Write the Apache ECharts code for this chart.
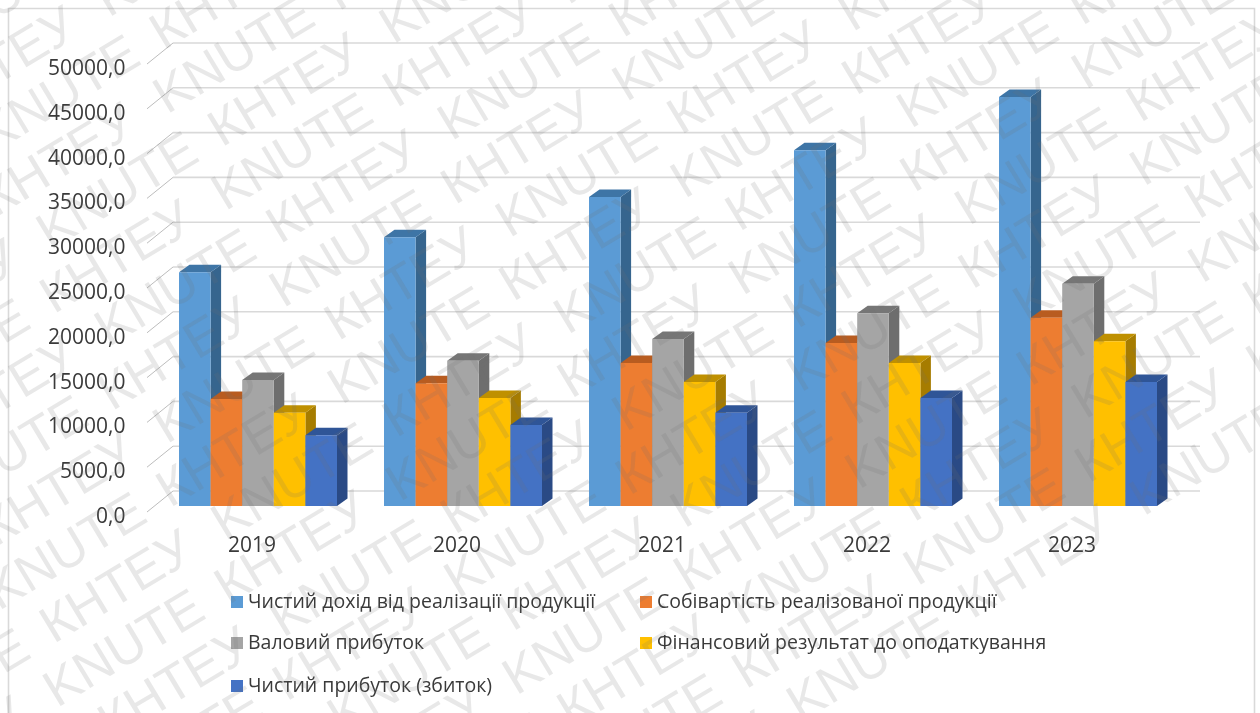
<!DOCTYPE html>
<html>
<head>
<meta charset="utf-8">
<style>html,body{margin:0;padding:0;background:#fff}#c{width:1260px;height:713px;filter:blur(0.45px)}</style>
<script src="https://cdn.jsdelivr.net/npm/echarts@6/dist/echarts.min.js"></script>
</head>
<body>
<div id="c"></div>
<script>
const years = ['2019','2020','2021','2022','2023'];
const netRevenue = [26100,30000,34500,39700,45650];
const costOfSales = [11950,13700,15950,18200,21000];
const grossProfit = [14050,16200,18650,21500,24800];
const pretaxResult = [10400,12050,13850,15950,18400];
const netProfit = [7900,9050,10400,12050,13850];
const yTicks = [0,5000,10000,15000,20000,25000,30000,35000,40000,45000,50000];
const seriesNames = ['Чистий дохід від реалізації продукції','Собівартість реалізованої продукції','Валовий прибуток','Фінансовий результат до оподаткування','Чистий прибуток (збиток)'];
const seriesValues = [netRevenue,costOfSales,grossProfit,pretaxResult,netProfit];
const frontColors = ['#5B9BD5','#ED7D31','#A5A5A5','#FFC000','#4472C4'];
const sideColors = ['#36658E','#8F4D1F','#6E6E6E','#A67C00','#2A4A85'];
const topColors = ['#3E75A6','#B85C20','#767676','#BF9000','#2F5597'];
const watermarkWords = ['KNUTE','КНТЕУ'];

const FONT = '"Open Sans", sans-serif';
const TEXT = '#3a3a3a';
const dx = 10.5, dy = 7.5, groupShare = 158/205;

function barItem(idx){
  return function(params, api){
    const c = api.coord([api.value(0), api.value(1)]);
    const base = api.coord([api.value(0), 0]);
    const band = api.size([1,0])[0];
    const w = band*groupShare/5;
    const x0 = c[0]-band*groupShare/2+idx*w, x1 = x0+w, yt = c[1], yb = base[1];
    return {type:'group',children:[
      {type:'polygon',shape:{points:[[x1,yb],[x1+dx,yb-dy],[x1+dx,yt-dy],[x1,yt]]},style:{fill:sideColors[idx]}},
      {type:'polygon',shape:{points:[[x0,yt],[x0+dx,yt-dy],[x1+dx,yt-dy],[x1,yt]]},style:{fill:topColors[idx]}},
      {type:'rect',shape:{x:x0,y:yt,width:w,height:yb-yt},style:{fill:frontColors[idx]}}
    ]};
  };
}
function gridItem(params, api){
  const y = api.coord([0, api.value(1)])[1];
  const cs = params.coordSys;
  const xf = cs.x-8.5, xb = cs.x+17.5, xr = cs.x+cs.width+19.5;
  return {type:'group',children:[
    {type:'polyline',shape:{points:[[xf,y+6],[xb,y-15]]},style:{stroke:'#bdbdbd',lineWidth:1,fill:'none'}},
    {type:'line',shape:{x1:xb,y1:y-15,x2:xr,y2:y-15},style:{stroke:'#d9d9d9',lineWidth:1.6}}
  ]};
}

const wmEls = [];
const wmAngle = 31*Math.PI/180, wmPeriod = 400, wmRow = 56.5;
for(let r=-8;r<16;r++){
  const odd = ((r%2)+2)%2;
  const start = odd ? 114 : 84;
  const first = odd ? 1 : 0;
  for(let k=-10;k<16;k++){
    const along = start + k*wmPeriod/2, across = 170 + r*wmRow;
    const x = along*Math.cos(wmAngle)+across*Math.sin(wmAngle);
    const y = -along*Math.sin(wmAngle)+across*Math.cos(wmAngle);
    if(x<-220||x>1400||y<-150||y>860) continue;
    const word = watermarkWords[(((k%2)+2)%2 + first)%2];
    wmEls.push({type:'text',x:x,y:y,rotation:wmAngle,silent:true,z:1000,
      style:{text:word,font:'52px "Liberation Sans", Arial, sans-serif',fill:'rgba(110,110,110,0.16)',verticalAlign:'middle',align:'left'}});
  }
}

const legendCells = [[231,602],[640,602],[231,643],[640,643],[231,686]];
const chart = echarts.init(document.getElementById('c'),null,{renderer:'canvas'});
chart.setOption({
  animation:false,
  backgroundColor:'#fff',
  grid:[
    {left:155.5,top:58,width:1025,height:448},
    {left:155.5,top:69,width:1025,height:448}
  ],
  xAxis:[
    {type:'category',data:years,axisLine:{show:false},axisTick:{show:false},splitLine:{show:false},
      axisLabel:{margin:30,color:TEXT,fontFamily:FONT,fontSize:21,padding:[0,12,0,0]}},
    {type:'category',gridIndex:1,data:years,show:false}
  ],
  yAxis:[
    {type:'value',min:0,max:50000,interval:5000,axisLine:{show:false},axisTick:{show:false},splitLine:{show:false},axisLabel:{show:false}},
    {type:'value',gridIndex:1,min:0,max:50000,interval:5000,axisLine:{show:false},axisTick:{show:false},splitLine:{show:false},
      axisLabel:{margin:30,color:TEXT,fontFamily:FONT,fontSize:21,formatter:v=>v.toFixed(1).replace('.',',')}}
  ],
  legend:seriesNames.map((n,i)=>({
    data:[n],left:legendCells[i][0],top:legendCells[i][1]-10,padding:0,itemWidth:12,itemHeight:12,icon:'rect',
    selectedMode:false,textStyle:{color:TEXT,fontFamily:FONT,fontSize:19.5,lineHeight:20}
  })),
  graphic:{elements:[
    {type:'rect',shape:{x:8.5,y:8.5,width:1246,height:720},style:{fill:'none',stroke:'#d9d9d9',lineWidth:1.6},z:1},
    ...wmEls
  ]},
  series:[
    {type:'custom',name:'grid',z:1,silent:true,clip:false,renderItem:gridItem,encode:{x:0,y:1},data:yTicks.map(v=>[0,v])},
    ...seriesNames.map((n,i)=>({
      type:'custom',name:n,z:3,clip:false,silent:true,renderItem:barItem(i),encode:{x:0,y:1},
      itemStyle:{color:frontColors[i]},
      data:seriesValues[i].map((v,j)=>[j,v])
    }))
  ]
});
</script>
</body>
</html>
